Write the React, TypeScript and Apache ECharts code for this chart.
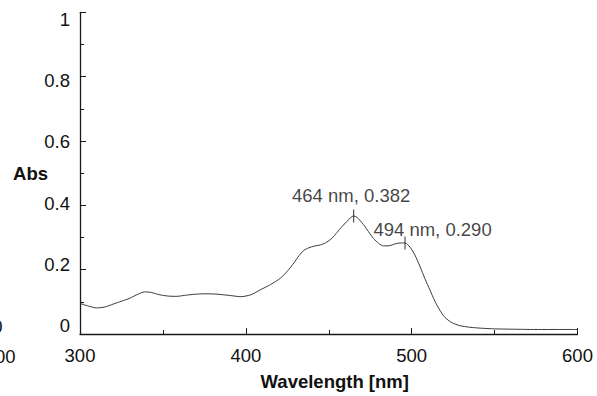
import React, { useEffect, useRef } from "react";
import * as echarts from "echarts";

const wavelengths = [
  300, 305, 310, 315, 320, 325, 330, 335, 339, 343, 348, 353, 358, 363, 368, 375, 382, 390, 397,
  403, 409, 415, 421, 425, 429, 432, 435, 438, 441, 445, 448, 452, 455, 458, 461, 463, 465, 467,
  469, 471, 474, 477, 480, 483, 486, 490, 493, 496, 499, 502, 505, 508, 511, 514, 517, 520, 524,
  529, 535, 542, 550, 560, 575, 590, 600,
];
const absorbance = [
  0.095, 0.087, 0.081, 0.084, 0.093, 0.102, 0.111, 0.124, 0.131, 0.129, 0.122, 0.118, 0.117,
  0.12, 0.123, 0.125, 0.124, 0.12, 0.116, 0.122, 0.138, 0.154, 0.174, 0.195, 0.221, 0.243,
  0.26, 0.268, 0.273, 0.277, 0.283, 0.298, 0.316, 0.334, 0.35, 0.361, 0.367, 0.363, 0.352,
  0.34, 0.318, 0.297, 0.282, 0.274, 0.274, 0.28, 0.283, 0.283, 0.27, 0.245, 0.21, 0.172,
  0.137, 0.102, 0.074, 0.052, 0.036, 0.026, 0.021, 0.018, 0.016, 0.015, 0.014, 0.014, 0.014,
];
const peakX = [465, 496];
const peakY = [0.367, 0.283];
const peakLabels = ["464 nm, 0.382", "494 nm, 0.290"];
const xTicks = [300, 400, 500, 600];
const yTicks = [0, 0.2, 0.4, 0.6, 0.8, 1];

const FONT = "'Liberation Sans', Arial, Helvetica, sans-serif";
const AX = "#1a1a1a";

export default function App() {
  const ref = useRef<HTMLDivElement>(null);
  useEffect(() => {
    if (!ref.current) return;
    const chart = echarts.init(ref.current, undefined, { renderer: "svg" });
    const labelOffsets: [number, number][] = [
      [-2.5, -20],
      [27.5, -13],
    ];
    chart.setOption({
      animation: false,
      backgroundColor: "#ffffff",
      textStyle: { fontFamily: FONT },
      grid: [
        { left: 80, right: 19.5, top: 12.3, bottom: 61.7 },
        { left: 80, right: 19.5, top: 19, bottom: 70.3 },
      ],
      xAxis: [
        {
          type: "value",
          gridIndex: 0,
          min: xTicks[0],
          max: xTicks[xTicks.length - 1],
          interval: 100,
          name: "Wavelength [nm]",
          nameLocation: "middle",
          nameGap: 38,
          nameTextStyle: {
            fontFamily: FONT,
            fontSize: 18.5,
            fontWeight: "bold",
            color: "#111",
            padding: [0, 0, 0, 12],
          },
          axisLine: { show: true, onZero: false, lineStyle: { color: AX, width: 1.3 } },
          axisTick: { show: true, inside: true, length: 6, lineStyle: { color: AX, width: 1 } },
          minorTick: { show: true, splitNumber: 2, length: 4, lineStyle: { color: AX, width: 1 } },
          splitLine: { show: false },
          axisLabel: { fontFamily: FONT, fontSize: 18.5, color: "#111", margin: 12 },
        },
        {
          type: "value",
          gridIndex: 1,
          min: 300,
          max: 600,
          show: false,
        },
      ],
      yAxis: [
        {
          type: "value",
          gridIndex: 0,
          min: yTicks[0],
          max: yTicks[yTicks.length - 1],
          interval: 0.2,
          name: "Abs",
          nameLocation: "middle",
          nameRotate: 0,
          nameGap: 32,
          nameTextStyle: { fontFamily: FONT, fontSize: 18.5, fontWeight: "bold", color: "#111" },
          axisLine: { show: true, onZero: false, lineStyle: { color: AX, width: 1.3 } },
          axisTick: { show: true, inside: true, length: 6, lineStyle: { color: AX, width: 1 } },
          minorTick: { show: true, splitNumber: 2, length: 4, lineStyle: { color: AX, width: 1 } },
          splitLine: { show: false },
          axisLabel: { show: false },
        },
        {
          type: "value",
          gridIndex: 1,
          min: yTicks[0],
          max: yTicks[yTicks.length - 1],
          interval: 0.2,
          axisLine: { show: false },
          axisTick: { show: false },
          splitLine: { show: false },
          axisLabel: { fontFamily: FONT, fontSize: 18.5, color: "#111", margin: 10 },
        },
      ],
      series: [
        {
          type: "line",
          xAxisIndex: 0,
          yAxisIndex: 0,
          data: wavelengths.map((w, i) => [w, absorbance[i]]),
          showSymbol: false,
          smooth: 0.25,
          lineStyle: { color: "#3a3a3a", width: 1 },
          silent: true,
        },
        {
          type: "scatter",
          xAxisIndex: 0,
          yAxisIndex: 0,
          symbol: "rect",
          symbolSize: [1.2, 13],
          itemStyle: { color: "#222" },
          data: peakX.map((x, i) => ({
            value: [x, peakY[i]],
            label: {
              show: true,
              formatter: peakLabels[i],
              position: "inside",
              offset: labelOffsets[i],
              fontFamily: FONT,
              fontSize: 18.5,
              color: "#111",
            },
          })),
          silent: true,
        },
      ],
      graphic: [
        {
          type: "text",
          left: undefined,
          x: 15.5,
          y: 356.7,
          style: {
            text: "300",
            fontFamily: FONT,
            fontSize: 18.5,
            fill: "#111",
            align: "right",
            verticalAlign: "middle",
          },
        },
        {
          type: "text",
          x: 2.5,
          y: 326,
          style: {
            text: "0",
            fontFamily: FONT,
            fontSize: 18.5,
            fill: "#111",
            align: "right",
            verticalAlign: "middle",
          },
        },
      ],
    });
    return () => chart.dispose();
  }, []);
  return (
    <div
      ref={ref}
      style={{ position: "fixed", left: 0, top: 0, width: 597, height: 396, background: "#fff" }}
    />
  );
}
